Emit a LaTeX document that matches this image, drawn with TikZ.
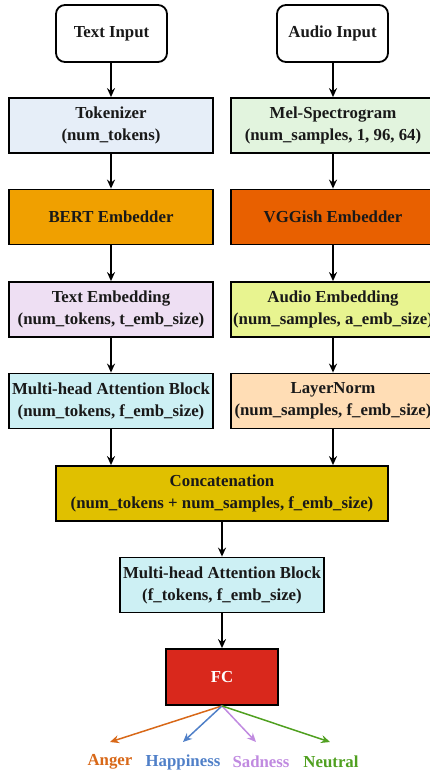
\documentclass[tikz,border=0pt]{standalone}
\usepackage{fontspec}
\setmainfont{Liberation Serif}
\usetikzlibrary{arrows.meta}
\definecolor{ctok}{HTML}{E6EEF8}
\definecolor{cmel}{HTML}{E2F4DE}
\definecolor{cbert}{HTML}{F0A000}
\definecolor{cvgg}{HTML}{E86000}
\definecolor{ctemb}{HTML}{EEDFF3}
\definecolor{caemb}{HTML}{E8F490}
\definecolor{cmha}{HTML}{CDF0F4}
\definecolor{cln}{HTML}{FFDDB5}
\definecolor{ccat}{HTML}{E0C000}
\definecolor{cfc}{HTML}{D9281C}
\definecolor{canger}{HTML}{D86818}
\definecolor{chappy}{HTML}{5080C8}
\definecolor{csad}{HTML}{C08AE0}
\definecolor{cneutral}{HTML}{50A020}
\tikzset{
  box/.style={draw=black, line width=1.8pt, align=center, inner sep=0pt,
    font=\fontsize{16.8pt}{22pt}\selectfont\bfseries, text=black!90},
  inbox/.style={box, rounded corners=9pt, fill=white, minimum width=111pt, minimum height=57pt},
  colbox/.style={box, minimum width=204pt, minimum height=55pt},
  arr/.style={line width=1.5pt, -{Stealth[length=9pt,width=8pt,inset=3pt]}},
  emo/.style={font=\fontsize{16.8pt}{22pt}\selectfont\bfseries},
}
\begin{document}
\begin{tikzpicture}[x=1pt,y=-1pt]
\useasboundingbox (0,0) rectangle (429,772);
\node[inbox] (tin) at (111.5,33.5) {Text Input};
\node[inbox] (ain) at (332.5,33.5) {Audio Input};
\node[colbox, fill=ctok] (tok) at (111,125.5) {Tokenizer\\(num\_tokens)};
\node[colbox, fill=cmel] (mel) at (333,125.5) {Mel-Spectrogram\\(num\_samples, 1, 96, 64)};
\node[colbox, fill=cbert] (bert) at (111,217) {BERT Embedder};
\node[colbox, fill=cvgg] (vgg) at (333,217) {VGGish Embedder};
\node[colbox, fill=ctemb] (temb) at (111,309.5) {Text Embedding\\(num\_tokens, t\_emb\_size)};
\node[colbox, fill=caemb] (aemb) at (333,309.5) {Audio Embedding\\(num\_samples, a\_emb\_size)};
\node[colbox, fill=cmha] (mha) at (111,401) {Multi-head Attention Block\\(num\_tokens, f\_emb\_size)};
\node[colbox, fill=cln] (ln) at (333,401) {LayerNorm\\(num\_samples, f\_emb\_size)};
\node[box, fill=ccat, minimum width=332pt, minimum height=55pt] (cat) at (222,493.5) {Concatenation\\(num\_tokens + num\_samples, f\_emb\_size)};
\node[colbox, fill=cmha] (mha2) at (222,585) {Multi-head Attention Block\\(f\_tokens, f\_emb\_size)};
\node[box, fill=cfc, text=white, minimum width=112pt, minimum height=56pt] (fc) at (222,677) {FC};
\coordinate (ea) at (110,742);
\coordinate (eh) at (183,742);
\coordinate (es) at (256,742);
\coordinate (en) at (330,742);
\node[emo, text=canger] (anger) at (110,762) {Anger};
\node[emo, text=chappy] (happy) at (183,762) {Happiness};
\node[emo, text=csad] (sad) at (261,762) {Sadness};
\node[emo, text=cneutral] (neutral) at (331,762) {Neutral};
\draw[arr] (tok |- tin.south) -- (tok);
\draw[arr] (tok) -- (bert);
\draw[arr] (bert) -- (temb);
\draw[arr] (temb) -- (mha);
\draw[arr] (mel |- ain.south) -- (mel);
\draw[arr] (mel) -- (vgg);
\draw[arr] (vgg) -- (aemb);
\draw[arr] (aemb) -- (ln);
\draw[arr] (mha) -- (mha |- cat.north);
\draw[arr] (ln) -- (ln |- cat.north);
\draw[arr] (cat) -- (mha2);
\draw[arr] (mha2) -- (fc);
\draw[arr, canger] (fc.south) -- (ea);
\draw[arr, chappy] (fc.south) -- (eh);
\draw[arr, csad] (fc.south) -- (es);
\draw[arr, cneutral] (fc.south) -- (en);
\end{tikzpicture}
\end{document}
